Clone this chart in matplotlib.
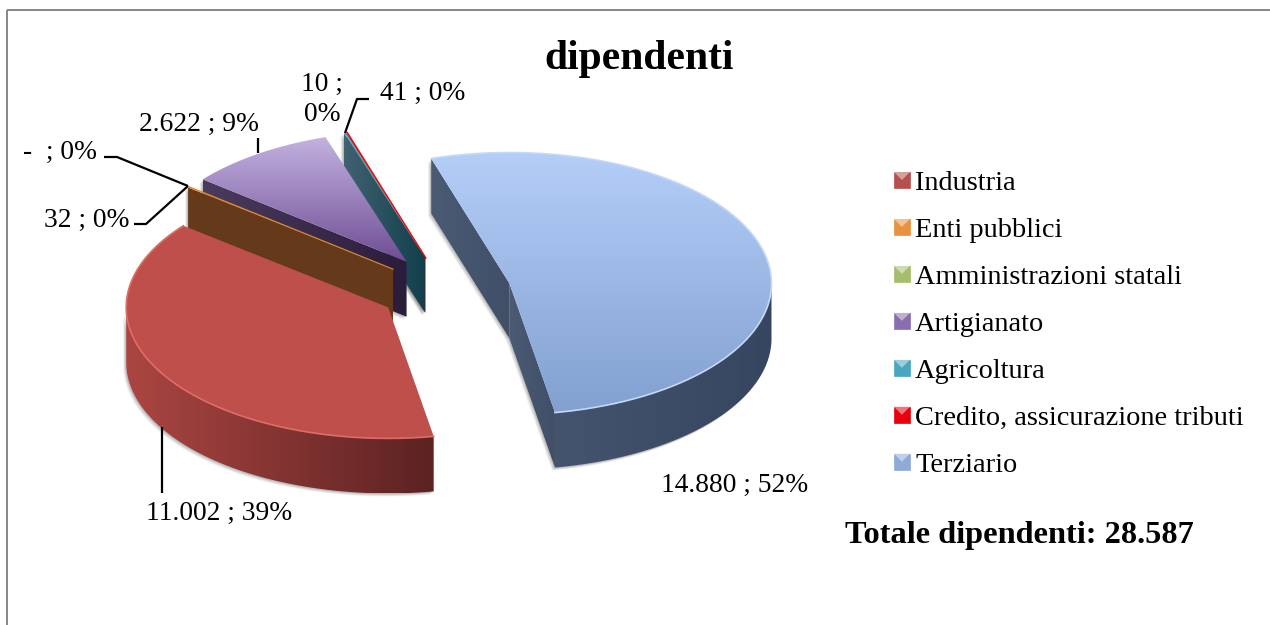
import numpy as np
import matplotlib
matplotlib.use("Agg")
import matplotlib.pyplot as plt
from matplotlib.colors import LinearSegmentedColormap, to_rgb
from matplotlib.legend_handler import HandlerBase
from matplotlib.patches import Patch, Polygon, Rectangle

plt.rcParams["font.family"] = ["Liberation Serif", "DejaVu Serif"]

categories = ["Industria", "Enti pubblici", "Amministrazioni statali", "Artigianato",
              "Agricoltura", "Credito, assicurazione tributi", "Terziario"]
values = [11002, 32, 0, 2622, 41, 10, 14880]

# how far each slice is pulled out, and a small vertical correction in pixels
explode = [0.23, 0.23, 0.23, 0.225, 0.19, 0.185, 0.273]
nudge = [4, 0, 0, -2, -7, -7, 4]
legend_colors = ["#B5504D", "#E8923F", "#A4BE6C", "#8A6DAE", "#4AA6C0", "#E8000B", "#8FAAD6"]
top_colors = [("#BE4F4B", "#BE4F4B"), ("#E08A35", "#E08A35"), ("#9BBB59", "#9BBB59"),
              ("#C2B1DF", "#6F4E94"), ("#4BACC6", "#4BACC6"), ("#FF0000", "#E00000"),
              ("#B4CEF8", "#82A0D0")]
wall_colors = [("#AB4642", "#5C2222"), ("#653A1B", "#653A1B"), ("#55662F", "#55662F"),
               ("#4A3C5E", "#2C1C3C"), ("#416270", "#113F4C"), ("#800000", "#800000"),
               ("#4B5B74", "#414F69")]
outer_colors = {0: ("#AB4642", "#5C2222"), 6: ("#44546F", "#364660")}

# pie geometry in pixels
cx, cy = 440, 288
rx, ry = 262, 131
depth = 55
start = 170

fig = plt.figure(figsize=(12.7, 6.25), dpi=100)
ax = fig.add_axes([0, 0, 1, 1])


def grad(xy, c0, c1, horizontal, z):
    xy = np.array(xy)
    g = np.linspace(0, 1, 128)
    g = g.reshape(1, -1) if horizontal else g.reshape(-1, 1)
    cmap = LinearSegmentedColormap.from_list("g", [c0, c1])
    ext = [xy[:, 0].min(), xy[:, 0].max(), xy[:, 1].max(), xy[:, 1].min()]
    im = ax.imshow(g, cmap=cmap, extent=ext, aspect="auto", zorder=z, origin="upper")
    clip = Polygon(xy, closed=True, transform=ax.transData, fc="none", ec="none")
    ax.add_patch(clip)
    im.set_clip_path(clip)


def wall(xy, c0, c1, z):
    xy = np.array(xy)
    # soft shadow round the lower edge
    for off, a in [(3, 0.10), (2, 0.15), (1, 0.2)]:
        ax.add_patch(Polygon(xy + [-off, off], closed=True, fc="#555555", ec="none", alpha=a, zorder=z - 0.1))
    grad(xy, c0, c1, True, z)


def arc(ax0, ay0, a0, a1):
    t = np.radians(np.linspace(a0, a1, max(int(abs(a1 - a0) * 2), 2)))
    return np.column_stack([ax0 + rx * np.sin(t), ay0 - ry * np.cos(t)])


fracs = np.array(values) / sum(values)
spans = fracs * 360
starts = start + np.concatenate([[0], np.cumsum(spans)[:-1]])
draw_order = [5, 4, 3, 2, 1, 0, 6]
z = 2
for i in draw_order:
    if values[i] == 0:
        continue
    a0, a1 = starts[i], starts[i] + spans[i]
    mid = np.radians((a0 + a1) / 2)
    ax0 = cx + explode[i] * rx * np.sin(mid)
    ay0 = cy - explode[i] * ry * np.cos(mid) + nudge[i]
    pts = arc(ax0, ay0, a0, a1)
    down = np.array([0, depth])
    apex = np.array([ax0, ay0])
    # radial walls, if they face the viewer
    if np.cos(np.radians(a0 - 90)) < 0:
        q = [pts[0], apex, apex + down, pts[0] + down]
        wall(q, wall_colors[i][0], wall_colors[i][1], z)
        z += 1
    if np.cos(np.radians(a1 + 90)) < 0:
        q = [apex, pts[-1], pts[-1] + down, apex + down]
        wall(q, wall_colors[i][0], wall_colors[i][1], z)
        z += 1
    # outer wall, only the part in front
    angles = (np.degrees(np.arctan2(pts[:, 0] - ax0, -(pts[:, 1] - ay0) * rx / ry)) + 360) % 360
    front = pts[(angles >= 90) & (angles <= 270)]
    if len(front) > 1:
        c0, c1 = outer_colors.get(i, wall_colors[i])
        wall(np.vstack([front, (front + down)[::-1]]), c0, c1, z)
        z += 1
    top = np.vstack([[apex], pts])
    grad(top, top_colors[i][0], top_colors[i][1], False, z)
    z += 1
    if i in (0, 6):
        rim = "#DE6D66" if i == 0 else "#C4D8F8"
        ax.plot(pts[:, 0], pts[:, 1], color=rim, lw=1.2, zorder=z)
        z += 1
    if i in (1, 5):
        # these slices are so thin only a line of the top shows
        ax.plot([apex[0], pts[-1, 0]], [apex[1], pts[-1, 1]], color=top_colors[i][0],
                lw=0.8 if i == 1 else 1.4, zorder=z)
        z += 1

# frame, open on the right and at the bottom like the source image
ax.add_patch(Rectangle((6.5, 9.5), 1300, 640, fc="none", ec="#868686", lw=1.4, zorder=1))


# data labels
def lab(i, pct):
    v = "- " if values[i] == 0 else f"{values[i]:,}".replace(",", ".")
    return f"{v} ; {pct}%"


fs = 19.8
tz = z + 5
ax.text(259, 124, lab(3, 9), ha="right", va="center", fontsize=fs, zorder=tz)
ax.text(97, 152, lab(2, 0), ha="right", va="center", fontsize=fs, zorder=tz)
ax.text(130, 220, lab(1, 0), ha="right", va="center", fontsize=fs, zorder=tz)
ax.text(380, 93, lab(4, 0), ha="left", va="center", fontsize=fs, zorder=tz)
ax.text(322, 99, "10 ;\n0%", ha="center", va="center", fontsize=fs, linespacing=1.27, zorder=tz)
ax.text(219, 513, lab(0, 39), ha="center", va="center", fontsize=fs, zorder=tz)
ax.text(735, 485, lab(6, 52), ha="center", va="center", fontsize=fs, zorder=tz)

# leader lines
leaders = [
    ([345, 357, 369], [133, 99, 99]),
    ([258, 258], [138, 153]),
    ([104, 117, 188], [157, 157, 186]),
    ([134, 146, 188], [224, 224, 186]),
    ([162, 162], [427, 493]),
]
for lx, ly in leaders:
    ax.plot(lx, ly, color="black", lw=1.6, zorder=tz, solid_capstyle="butt")

ax.text(639, 59, "dipendenti", ha="center", va="center", fontsize=30, fontweight="bold", zorder=tz)
total = f"{sum(values):,}".replace(",", ".")
ax.text(1019, 536, f"Totale dipendenti: {total}", ha="center", va="center", fontsize=23.3, fontweight="bold", zorder=tz)


class BevelHandler(HandlerBase):
    def create_artists(self, legend, orig, xd, yd, width, height, fontsize, trans):
        col = orig.get_facecolor()
        s = width
        y0 = -yd + (height - s) / 2
        base = Rectangle((-xd, y0), s, s, fc=col, ec=col, lw=0.5, transform=trans)
        light = tuple(min(1, c * 0.55 + 0.45) for c in to_rgb(col))
        tri = Polygon([(-xd, y0 + s), (-xd + s, y0 + s), (-xd + s / 2, y0 + s / 2)],
                      closed=True, fc=light, ec="none", transform=trans)
        return [base, tri]


handles = [Patch(facecolor=c) for c in legend_colors]
leg = ax.legend(handles, categories, handler_map={Patch: BevelHandler()},
                loc="upper left", bbox_to_anchor=(894, 171), bbox_transform=ax.transData,
                frameon=False, fontsize=20.4, labelspacing=0.775, handlelength=0.56, handleheight=0.56,
                handletextpad=0.18, borderpad=0, borderaxespad=0)
leg.set_zorder(tz)

ax.set_xlim(0, 1270)
ax.set_ylim(625, 0)
ax.axis("off")
fig.savefig("out.png", dpi=100)
